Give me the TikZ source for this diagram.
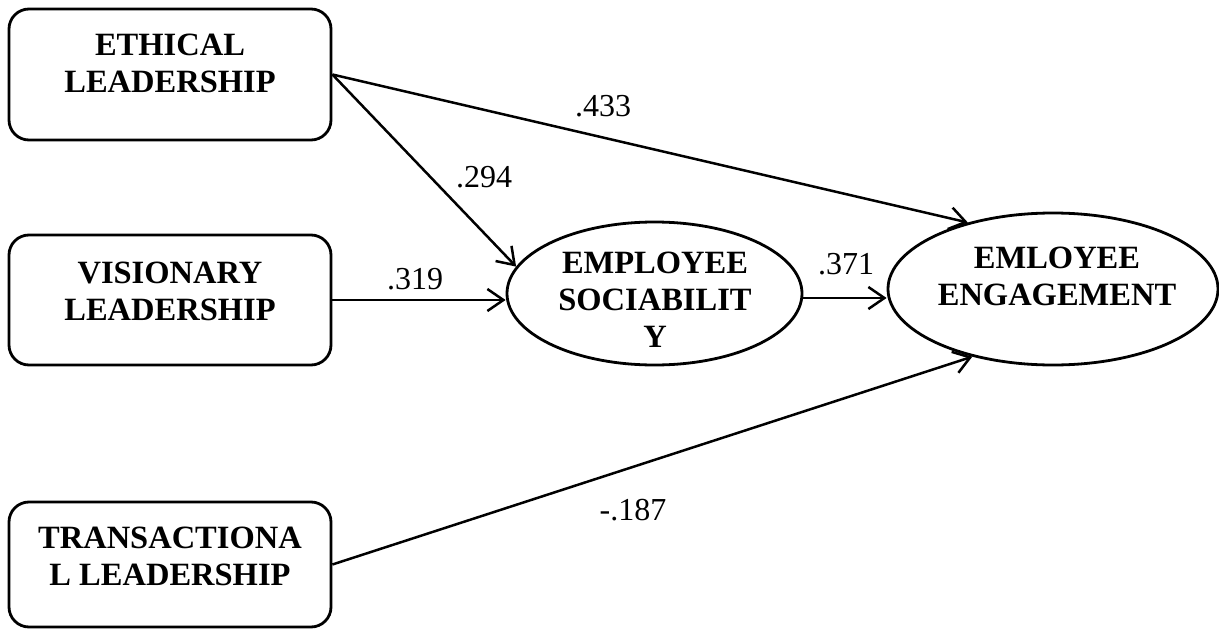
\documentclass[tikz,border=0pt]{standalone}
\usepackage{fontspec}
\setmainfont{Liberation Serif}
\usetikzlibrary{arrows.meta,shapes.geometric}
\tikzset{
  box/.style={draw, line width=2.8pt, rounded corners=20pt, minimum width=322pt, inner sep=0pt},
  oval/.style={draw, ellipse, line width=2.8pt, inner sep=0pt},
  title/.style={align=center, inner sep=0pt, font=\fontsize{32.5}{37}\selectfont\bfseries},
  coef/.style={inner sep=0pt, font=\fontsize{32}{37}\selectfont},
  path/.style={line width=2.5pt, -{Straight Barb[length=16pt,width=22pt,line width=2.5pt]}}
}
\begin{document}
\begin{tikzpicture}[x=1pt,y=-1pt]
\useasboundingbox (0,0) rectangle (1219,629);
% boxes
\node[box, minimum height=131pt] (eth) at (170,74.5) {};
\node[title] (etht) at (170,63) {ETHICAL\\LEADERSHIP};
\node[box, minimum height=130pt] (vis) at (170,300) {};
\node[title] (vist) at (170,291) {VISIONARY\\LEADERSHIP};
\node[box, minimum height=125pt] (tra) at (170,564.5) {};
\node[title] (trat) at (170,556) {TRANSACTIONA\\L LEADERSHIP};
% ellipses
\node[oval, minimum width=295pt, minimum height=143pt] (soc) at (654.5,293.5) {};
\node[title] (soct) at (655,300) {EMPLOYEE\\SOCIABILIT\\Y};
\node[oval, minimum width=330pt, minimum height=152pt] (eng) at (1053,289) {};
\node[title] (engt) at (1057,276.5) {EMLOYEE\\ENGAGEMENT};
% connectors
\draw[path] (eth.east) -- (eng.142.5);
\draw[path] (eth.east) -- (soc.169.4);
\draw[path] (vis.east) -- (vis.east -| soc.west);
\draw[path] ([yshift=-4.5pt]soc.east) -- ([yshift=-4.5pt]soc.east -| eng.west);
\draw[path] (tra.east) -- (eng.220.4);
% coefficients
\node[coef] (c1) at (603,106) {.433};
\node[coef] (c2) at (484,177) {.294};
\node[coef] (c3) at (415,279) {.319};
\node[coef] (c4) at (846,264) {.371};
\node[coef] (c5) at (633,510) {-.187};
\end{tikzpicture}
\end{document}
